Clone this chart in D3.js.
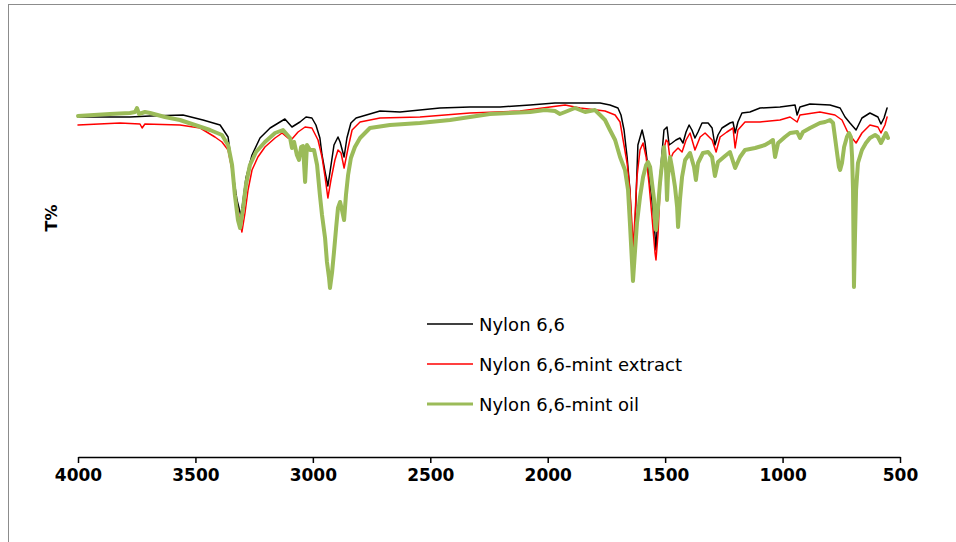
<!DOCTYPE html>
<html>
<head>
<meta charset="utf-8">
<script src="https://cdn.jsdelivr.net/npm/d3@7"></script>
<style>
  html, body { margin: 0; padding: 0; background: #fff; }
  svg { display: block; }
</style>
</head>
<body>
<svg id="chart" width="956" height="542"></svg>
<script>
// ---- Data: [wavenumber (cm-1), transmittance (arbitrary T%)] ----
const seriesNames = ["Nylon 6,6", "Nylon 6,6-mint extract", "Nylon 6,6-mint oil"];
const xTicks = [4000, 3500, 3000, 2500, 2000, 1500, 1000, 500];

const nylon66 = [
  [4000,85],[3779,85],[3693,85.25],[3553,85.5],[3468,84.25],[3395,83],[3361,80],[3344,72.5],
  [3323,64.25],[3306,60.25],[3285,69.75],[3259,75.5],[3225,79.75],[3182,82.25],[3140,83.75],
  [3119,84.5],[3089,82.5],[3055,83.75],[3029,85],[3004,84.75],[2987,83],[2970,79.75],[2961,75.5],
  [2948,71.25],[2936,67.75],[2927,71.25],[2910,78],[2893,80],[2884,78.75],[2867,75],[2855,79.75],
  [2838,83.5],[2816,84.75],[2714,86.5],[2629,86.25],[2459,87.25],[2331,87.5],[2203,87.5],
  [2075,88],[1969,88.5],[1862,88.5],[1777,88.5],[1735,88],[1701,87.25],[1688,85.5],[1675,81.75],
  [1662,75],[1650,66.75],[1641,54.25],[1637,50.5],[1628,58],[1616,78],[1598,81.75],[1586,78.75],
  [1573,72.25],[1560,66.25],[1547,58.75],[1539,51.75],[1530,61.25],[1522,69.75],[1513,76.25],
  [1505,81.75],[1492,82.5],[1483,78],[1471,78.5],[1454,79.25],[1437,79.75],[1424,78.5],
  [1411,81.25],[1398,83],[1386,81.75],[1373,79.75],[1360,81.25],[1343,83.5],[1317,83.5],
  [1300,82.25],[1288,78],[1275,80.5],[1258,82.25],[1224,83.5],[1211,83.75],[1202,81],
  [1190,83.75],[1173,86],[1139,86.25],[1096,87.25],[1011,87.5],[947,88],[938,85.5],[926,87.5],
  [883,88.25],[798,88],[755,87.25],[734,85],[713,83.5],[687,81.75],[662,84.75],[628,86],
  [594,85],[581,83.25],[568,84.75],[555,87.25]
];

const mintExtract = [
  [4000,83],[3821,83.5],[3736,83.25],[3727,82.25],[3715,83.25],[3566,83],[3480,82.25],[3417,80],
  [3387,78.75],[3361,76.75],[3344,71.75],[3327,64.25],[3310,58.5],[3302,56.25],[3289,61],
  [3276,66.75],[3259,71.75],[3234,75],[3204,77.5],[3161,79.75],[3131,81],[3106,79.75],[3089,79.5],
  [3063,81.25],[3033,82.5],[3004,82.25],[2978,79.25],[2961,75],[2948,70],[2936,64.75],[2923,69.25],
  [2906,74.25],[2893,76.75],[2880,76],[2867,72.25],[2850,77.25],[2833,81.75],[2799,83.75],
  [2714,84.75],[2544,85],[2331,86],[2118,86.5],[1990,87.5],[1926,88],[1862,87.25],[1756,86.5],
  [1713,85.5],[1692,83.75],[1679,79.25],[1662,73.5],[1650,66.75],[1641,58],[1637,51.75],
  [1628,60.5],[1620,70],[1607,76.75],[1594,78.5],[1581,75],[1569,68.5],[1556,60],[1543,51],
  [1539,49.25],[1530,56],[1522,66.75],[1509,76],[1496,79.25],[1488,78.75],[1479,74.25],[1466,76],
  [1445,77.25],[1428,76.25],[1411,79.25],[1394,81],[1373,76.75],[1351,80],[1330,81],[1300,79.25],
  [1283,76.25],[1266,80],[1237,81.25],[1211,82.25],[1202,77.25],[1190,81.75],[1160,83.75],
  [1096,83.75],[1011,84.25],[968,85],[938,83.75],[926,85.5],[841,86.25],[777,85.5],[747,84.25],
  [721,81],[687,78.5],[662,81],[628,83],[594,82.5],[581,81],[564,83],[555,85]
];

const mintOil = [
  [4000,85.25],[3864,85.75],[3779,86],[3757,86.25],[3749,87.25],[3740,85.75],[3715,86.25],
  [3693,86],[3630,85],[3566,84.25],[3502,83],[3438,81.75],[3387,80.5],[3361,78],[3344,73],
  [3332,65.5],[3319,59.25],[3310,57.25],[3297,62.25],[3285,68],[3268,73],[3242,76.25],
  [3204,78.75],[3161,81],[3127,81.75],[3097,79.75],[3089,77.25],[3080,78.75],[3068,75.5],
  [3059,74.25],[3050,77.5],[3042,77.75],[3033,68.75],[3025,78],[3012,76.75],[2995,76.75],
  [2982,73],[2970,65.5],[2961,60.5],[2948,54.75],[2940,48.75],[2931,44.75],[2927,42.25],
  [2918,46.25],[2910,51.25],[2901,57.25],[2893,62.25],[2884,63.75],[2876,61.75],[2867,59.25],
  [2859,65.5],[2850,70.5],[2838,74.75],[2821,77.5],[2799,79.75],[2757,82.25],[2672,83],
  [2544,83.5],[2416,84.25],[2331,85],[2246,85.75],[2161,86],[2075,86.25],[2012,86.75],
  [1969,86.5],[1948,85.75],[1926,86.25],[1884,87.25],[1841,86.25],[1799,86.75],[1777,85.5],
  [1756,84.25],[1735,81.75],[1713,79.25],[1692,75],[1671,71.75],[1658,66.75],[1650,58.5],
  [1641,48.5],[1637,44],[1628,51.75],[1620,58.5],[1607,65],[1594,70],[1581,73],[1573,73.75],
  [1564,72.5],[1556,68.5],[1547,64.25],[1543,58.5],[1539,56.75],[1530,62.5],[1522,68.5],
  [1513,73.5],[1505,77.5],[1496,71.75],[1492,64.25],[1488,70],[1479,75],[1471,72.5],[1458,67.5],
  [1449,62.5],[1445,57.5],[1437,64.25],[1428,70],[1415,74.25],[1394,76],[1377,72.5],[1369,69.25],
  [1360,73.5],[1339,76],[1317,76.25],[1300,75],[1288,70.25],[1275,73.75],[1245,75.25],
  [1224,76.25],[1202,72.25],[1181,75],[1160,76.75],[1117,77.25],[1075,78],[1053,78.75],
  [1041,79.25],[1032,75],[1019,78.5],[990,80],[968,81],[938,81.25],[926,79.75],[913,81.25],
  [883,82.25],[841,83.5],[819,83.75],[798,84.25],[785,83.5],[777,80],[768,76],[760,72.5],
  [755,71.75],[747,73.5],[738,77.5],[726,80],[717,81],[709,80],[704,75],[700,66.75],[696,42.5],
  [692,54.25],[687,66.75],[679,73.5],[662,76.75],[645,78.5],[628,79.75],[606,80.5],[594,80],
  [581,78.5],[568,80],[560,81],[551,79.75]
];

const colors = ["#000000", "#FF0000", "#9BBB59"];
const widths = [1.5, 1.5, 4];
const seriesData = [nylon66, mintExtract, mintOil];

// ---- Drawing ----
const svg = d3.select("#chart");

// outer chart frame
svg.append("rect")
  .attr("x", 8.5).attr("y", 4.5)
  .attr("width", 1000).attr("height", 600)
  .attr("fill", "none").attr("stroke", "#8c8c8c").attr("stroke-width", 1);

const x = d3.scaleLinear().domain([4000, 500]).range([78, 900]);
const y = d3.scaleLinear().domain([0, 100]).range([457, 57]);

const line = d3.line()
  .x(d => x(d[0]))
  .y(d => y(d[1]))
  .curve(d3.curveLinear);

// draw series: black, red, green (green on top)
seriesData.forEach((data, i) => {
  svg.append("path")
    .datum(data)
    .attr("d", line)
    .attr("fill", "none")
    .attr("stroke", colors[i])
    .attr("stroke-width", widths[i])
    .attr("stroke-linejoin", "round")
    .attr("stroke-linecap", "round");
});

// x axis
const xAxis = d3.axisBottom(x)
  .tickValues(xTicks)
  .tickFormat(d3.format("d"))
  .tickSize(6)
  .tickSizeOuter(0)
  .tickPadding(6);

const gx = svg.append("g")
  .attr("transform", `translate(0,${y(0)})`)
  .call(xAxis);
gx.select(".domain").attr("stroke", "#000").attr("stroke-width", 1.5);
gx.selectAll(".tick line").attr("stroke", "#000").attr("stroke-width", 1.5);
gx.selectAll(".tick text")
  .attr("fill", "#000")
  .style("font-family", "'DejaVu Sans', sans-serif")
  .style("font-weight", "bold")
  .style("font-size", "17px");

// y axis title
svg.append("text")
  .attr("transform", `translate(57,218) rotate(-90)`)
  .attr("text-anchor", "middle")
  .style("font-family", "'DejaVu Sans', sans-serif")
  .style("font-weight", "bold")
  .style("font-size", "16px")
  .attr("fill", "#000")
  .text("T%");

// legend
const legend = svg.append("g");
const legendY = [324, 364, 404];
seriesNames.forEach((name, i) => {
  legend.append("line")
    .attr("x1", 427).attr("x2", 473)
    .attr("y1", legendY[i]).attr("y2", legendY[i])
    .attr("stroke", colors[i])
    .attr("stroke-width", i === 2 ? 3 : 1.5);
  legend.append("text")
    .attr("x", 479).attr("y", legendY[i] + 6.5)
    .style("font-family", "'DejaVu Sans', sans-serif")
    .style("font-size", "18px")
    .attr("fill", "#000")
    .text(name);
});
</script>
</body>
</html>
